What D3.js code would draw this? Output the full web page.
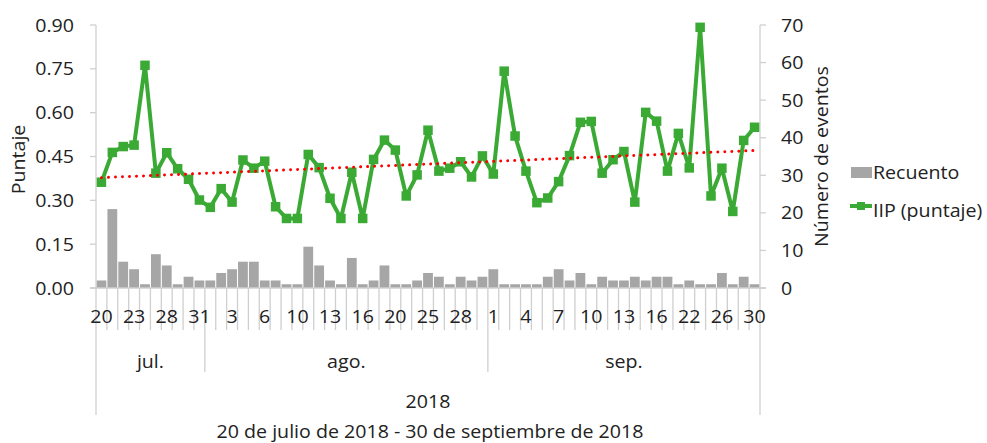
<!DOCTYPE html>
<html>
<head>
<meta charset="utf-8">
<script src="https://cdn.jsdelivr.net/npm/d3@7"></script>
<style>
  html, body { margin: 0; padding: 0; background: #fff; }
  svg { display: block; }
  text { font-family: "Open Sans", "Noto Sans", sans-serif; fill: #222; }
</style>
</head>
<body>
<svg id="chart" width="987" height="443"></svg>
<script>
// ---------- DATA ----------
const dates = [
  "2018-07-20","2018-07-21","2018-07-22","2018-07-23","2018-07-24","2018-07-26","2018-07-28","2018-07-29","2018-07-30","2018-07-31",
  "2018-08-01","2018-08-02","2018-08-03","2018-08-04","2018-08-05","2018-08-06","2018-08-08","2018-08-09","2018-08-10","2018-08-11",
  "2018-08-12","2018-08-13","2018-08-14","2018-08-15","2018-08-16","2018-08-17","2018-08-18","2018-08-20","2018-08-22","2018-08-23",
  "2018-08-25","2018-08-26","2018-08-27","2018-08-28","2018-08-30","2018-08-31",
  "2018-09-01","2018-09-02","2018-09-03","2018-09-04","2018-09-05","2018-09-06","2018-09-07","2018-09-08","2018-09-09","2018-09-10",
  "2018-09-11","2018-09-12","2018-09-13","2018-09-14","2018-09-15","2018-09-16","2018-09-18","2018-09-20","2018-09-22","2018-09-23",
  "2018-09-24","2018-09-26","2018-09-27","2018-09-29","2018-09-30"
];
const iip = [
  0.362,0.464,0.484,0.489,0.762,0.393,0.463,0.408,0.372,0.301,
  0.276,0.340,0.294,0.438,0.410,0.434,0.278,0.238,0.238,0.457,
  0.412,0.307,0.238,0.396,0.238,0.440,0.506,0.472,0.315,0.387,
  0.540,0.400,0.410,0.432,0.380,0.452,0.390,0.742,0.520,0.400,
  0.292,0.308,0.364,0.453,0.567,0.570,0.393,0.439,0.467,0.294,
  0.601,0.571,0.400,0.529,0.411,0.892,0.315,0.410,0.262,0.505,0.550
];
const recuento = [
  2,21,7,5,1,9,6,1,3,2,
  2,4,5,7,7,2,2,1,1,11,
  6,2,1,8,1,2,6,1,1,2,
  4,3,1,3,2,3,5,1,1,1,
  1,3,5,2,4,1,3,2,2,3,
  2,3,3,1,2,1,1,4,1,3,1
];
const monthNames = ["jul.","ago.","sep."];
const yearLabel = "2018";
const leftTicks = [0,0.15,0.30,0.45,0.60,0.75,0.90];
const rightTicks = [0,10,20,30,40,50,60,70];
const seriesNames = ["Recuento","IIP (puntaje)"];
const leftTitle = "Puntaje";
const rightTitle = "Número de eventos";
const subtitle = "20 de julio de 2018 - 30 de septiembre de 2018";

// ---------- LAYOUT ----------
const svg = d3.select("#chart");
const L = 96, R = 760, T = 25, B = 288;
const FS = 18, SX = 1.09;
const axisCol = "#cfcfcf";
const green = "#3aaa35";
const barCol = "#a6a6a6";

const n = dates.length;
const x = d3.scaleBand().domain(d3.range(n)).range([L, R]).padding(0);
const yL = d3.scaleLinear().domain([0, 0.9]).range([B, T]);
const yR = d3.scaleLinear().domain([0, 70]).range([B, T]);
const cx = i => x(i) + x.bandwidth() / 2;

function txt(px, py, s, anchor, rot) {
  const g = svg.append("g").attr("transform", `translate(${px},${py})` + (rot ? ` rotate(${rot})` : ""));
  g.append("text")
    .attr("transform", `scale(${SX},1)`)
    .attr("text-anchor", anchor || "middle")
    .attr("font-size", FS)
    .text(s);
  return g;
}

// bars
const bw = x.bandwidth() * 0.9;
svg.append("g").selectAll("rect").data(recuento).join("rect")
  .attr("x", (d, i) => cx(i) - bw / 2)
  .attr("width", bw)
  .attr("y", d => yR(d))
  .attr("height", d => B - yR(d))
  .attr("fill", barCol);

// left axis
svg.append("line").attr("x1", L).attr("x2", L).attr("y1", T).attr("y2", B).attr("stroke", axisCol).attr("stroke-width", 1.3);
leftTicks.forEach(t => {
  svg.append("line").attr("x1", L - 6).attr("x2", L).attr("y1", yL(t)).attr("y2", yL(t)).attr("stroke", axisCol).attr("stroke-width", 1.3);
  txt(74, yL(t) + 6.5, d3.format(".2f")(t), "end");
});
// right axis
svg.append("line").attr("x1", R).attr("x2", R).attr("y1", T).attr("y2", B).attr("stroke", axisCol).attr("stroke-width", 1.3);
rightTicks.forEach(t => {
  svg.append("line").attr("x1", R).attr("x2", R + 6).attr("y1", yR(t)).attr("y2", yR(t)).attr("stroke", axisCol).attr("stroke-width", 1.3);
  txt(781, yR(t) + 6.5, String(t), "start");
});
// x axis line
svg.append("line").attr("x1", L - 6).attr("x2", R + 6).attr("y1", B).attr("y2", B).attr("stroke", axisCol).attr("stroke-width", 1.3);

// category separators
d3.range(n + 1).forEach(i => {
  const xx = i < n ? x(i) : R;
  svg.append("line").attr("x1", xx).attr("x2", xx).attr("y1", B).attr("y2", 330).attr("stroke", axisCol).attr("stroke-width", 1.3);
});
// day labels every 3rd
dates.forEach((d, i) => {
  if (i % 3 === 0) txt(cx(i), 322.5, String(+d.slice(8, 10)), "middle");
});
// month groups
const months = d3.groups(dates.map((d, i) => ({ m: +d.slice(5, 7), i })), d => d.m);
months.forEach(([m, arr], k) => {
  const i0 = arr[0].i, i1 = arr[arr.length - 1].i;
  const x0 = x(i0), x1 = x(i1) + x.bandwidth();
  txt((x0 + x1) / 2, 368, monthNames[k], "middle");
  if (k > 0) svg.append("line").attr("x1", x0).attr("x2", x0).attr("y1", 330).attr("y2", 372).attr("stroke", axisCol).attr("stroke-width", 1.3);
});
// year level
[L, R].forEach(xx => svg.append("line").attr("x1", xx).attr("x2", xx).attr("y1", 330).attr("y2", 415).attr("stroke", axisCol).attr("stroke-width", 1.3));
txt((L + R) / 2, 408, yearLabel, "middle");
txt(430, 438, subtitle, "middle");

// axis titles
txt(25, (T + B) / 2 + 3, leftTitle, "middle", -90);
txt(828, (T + B) / 2, rightTitle, "middle", -90);

// IIP line
const line = d3.line().x((d, i) => cx(i)).y(d => yL(d));
svg.append("path").datum(iip).attr("d", line).attr("fill", "none").attr("stroke", green).attr("stroke-width", 4).attr("stroke-linejoin", "round");
const ms = 9.5;
svg.append("g").selectAll("rect").data(iip).join("rect")
  .attr("x", (d, i) => cx(i) - ms / 2).attr("y", d => yL(d) - ms / 2)
  .attr("width", ms).attr("height", ms).attr("fill", green);

// linear trendline (least squares on the series)
const xs = d3.range(n);
const mx = d3.mean(xs), my = d3.mean(iip);
const slope = d3.sum(xs, i => (i - mx) * (iip[i] - my)) / d3.sum(xs, i => (i - mx) * (i - mx));
const icpt = my - slope * mx;
svg.append("line")
  .attr("x1", cx(0)).attr("y1", yL(icpt))
  .attr("x2", cx(n - 1)).attr("y2", yL(icpt + slope * (n - 1)))
  .attr("stroke", "#ff0000").attr("stroke-width", 3).attr("stroke-linecap", "round")
  .attr("stroke-dasharray", "0.01,7");

// legend
svg.append("rect").attr("x", 851).attr("y", 167).attr("width", 21).attr("height", 11).attr("fill", barCol);
txt(873, 178.5, seriesNames[0], "start");
svg.append("line").attr("x1", 850).attr("x2", 872).attr("y1", 206).attr("y2", 206).attr("stroke", green).attr("stroke-width", 4);
svg.append("rect").attr("x", 857).attr("y", 202).attr("width", 8).attr("height", 8).attr("fill", green);
txt(873, 216.5, seriesNames[1], "start");
</script>
</body>
</html>
